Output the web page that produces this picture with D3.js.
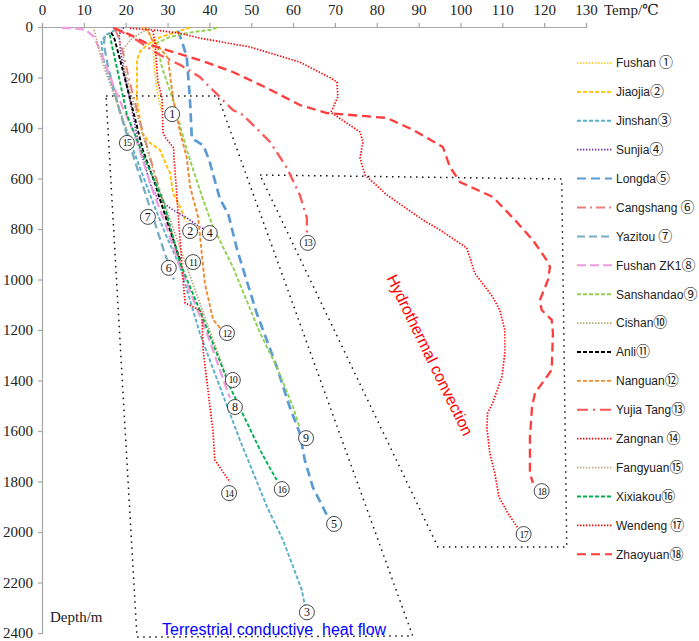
<!DOCTYPE html>
<html>
<head>
<meta charset="utf-8">
<script src="https://cdn.jsdelivr.net/npm/d3@7"></script>
<style>
  body { margin: 0; background: #fff; }
  svg { display: block; }
</style>
</head>
<body>
<svg id="chart" width="699" height="641"></svg>
<script>
// ---- data: [temperature (degC), depth (m)] ----
var fushan1 = [[24,0],[25.5,20],[26.5,60],[26.8,150],[27.5,250],[28.5,330]];
var jiaojia2 = [[35.4,2],[33,15],[31.3,24],[28,42],[25.8,63],[23.5,95],[22.7,130],[22.7,289],[23.9,420],[25.8,459],[28.2,487],[29.9,554],[30.6,578],[31.3,657],[33,713],[34.4,772]];
var jinshan3 = [[17.5,12],[15.5,30],[14.2,55],[14.5,120],[16.5,220],[19.5,380],[23,540],[26.3,685],[29.5,820],[33,950],[37.7,1212],[42.5,1425],[47.3,1636],[53.8,1901],[57.6,2032],[62.1,2230],[62.8,2290]];
var sunjia4 = [[19.5,2],[18.4,30],[18.8,100],[19.5,170],[21.5,330],[23.4,487],[24.6,546],[25.8,620],[27.7,680],[30.6,717],[34.6,756],[37.7,792],[39.4,804]];
var longda5 = [[32.5,15],[33.5,60],[34.6,120],[35.2,250],[35.4,300],[35.8,440],[38.6,470],[40,530],[42.5,680],[44.5,740],[46.6,880],[51.3,1133],[56.1,1346],[59.2,1505],[61.6,1608],[62.8,1715],[64.7,1822],[68.3,1940]];
var cangshang6 = [[17.5,10],[18.5,50],[19.5,110],[21,220],[24,410],[28,640],[31,820],[33.5,960]];
var yazitou7 = [[15,35],[14.8,70],[15.8,160],[18.5,330],[22,520],[25.5,700],[29,880],[31.5,1000]];
var fushanZK1_8 = [[4.8,4],[8,5],[10.5,12],[12.5,40],[14,100],[17.5,250],[22,420],[26.5,650],[29.5,780],[33,950],[39.4,1212],[44.9,1469]];
var sanshandao9 = [[41.8,2],[40.8,10],[37,18],[34.6,24],[30.5,40],[27.5,63],[28.5,150],[31.3,289],[34.6,487],[38.5,685],[40.9,792],[45.6,950],[52.1,1212],[56.1,1346],[60,1505],[61.6,1588]];
var cishan10 = [[25.8,5],[24,20],[21.5,45],[19.5,85],[19.5,150],[21,250],[24,420],[27.5,620],[31,780],[34.6,950],[40.9,1240],[44.2,1386]];
var anli11 = [[16.5,22],[17.2,40],[18.5,120],[21,281],[24.1,487],[27,620],[29.5,750],[33,923]];
var nanguan12 = [[24.6,0],[25.5,20],[26.3,51],[28,80],[30.1,123],[31.3,281],[33,416],[34.6,519],[35.4,634],[37.3,752],[38.9,1014],[40.9,1160],[43,1200]];
var yujiaTang13 = [[17.4,4],[22,45],[28.2,111],[33,150],[37.7,198],[45.6,329],[48,348],[54.5,455],[58.5,558],[61.6,665],[63.3,756],[63.3,816]];
var zangnan14 = [[26.5,15],[27,63],[27.7,218],[28.7,281],[28.9,416],[29.4,436],[31.5,479],[31.5,510],[32.3,685],[33.7,1002],[34.2,1093],[37.7,1121],[38.2,1133],[38.5,1279],[40.9,1608],[41.3,1715],[44.9,1802]];
var fangyuan15 = [[12.2,0],[12.6,20],[13.5,80],[14.6,150],[17,260],[19.9,390],[21.5,460]];
var xixiakou16 = [[16.2,30],[16.8,80],[18.4,200],[20.3,348],[24.5,520],[28.9,685],[33,935],[37.7,1121],[44.9,1425],[52.1,1675],[53.8,1727],[56.1,1794]];
var wendeng17 = [[21,5],[28,14],[33,25],[37.7,44],[49.7,79],[61.6,139],[69,202],[70.5,218],[70.7,277],[69.3,329],[69,338],[76,416],[76.7,455],[76,519],[77.2,586],[82.4,665],[91,764],[95.1,804],[101.5,875],[102.2,911],[103.4,974],[107.7,1069],[109.4,1121],[110.6,1200],[110.6,1291],[109.9,1386],[107.7,1489],[106.5,1529],[106.3,1584],[107,1687],[108.2,1766],[109.2,1861],[111.5,1930],[113.7,1984]];
var zhaoyuan18 = [[17,4],[21,30],[25.8,71],[37.7,131],[45.6,178],[53.8,242],[61.6,309],[68.1,341],[71.2,345],[82.4,360],[88.7,408],[95.8,475],[97.5,555],[99.9,614],[107.7,673],[113,764],[117.3,844],[120.6,923],[121.4,950],[120.9,1002],[119,1081],[119.4,1121],[121.8,1160],[122.1,1212],[121.8,1358],[120.6,1386],[117.8,1450],[117.1,1505],[116.6,1624],[116.6,1766],[117.3,1806]];

var wellNames = ["Fushan","Jiaojia","Jinshan","Sunjia","Longda","Cangshang","Yazitou","Fushan ZK1","Sanshandao","Cishan","Anli","Nanguan","Yujia Tang","Zangnan","Fangyuan","Xixiakou","Wendeng","Zhaoyuan"];
var wellMarks = ["①","②","③","④","⑤","⑥","⑦","⑧","⑨","⑩","⑪","⑫","⑬","⑭","⑮","⑯","⑰","⑱"];
var wellData = [fushan1, jiaojia2, jinshan3, sunjia4, longda5, cangshang6, yazitou7, fushanZK1_8, sanshandao9, cishan10, anli11, nanguan12, yujiaTang13, zangnan14, fangyuan15, xixiakou16, wendeng17, zhaoyuan18];

// where each circled number sits on the chart [temp, depth]
var markAt = [[31.1,345],[35.4,808],[63.3,2318],[40.1,816],[69.8,1968],[30.3,954],[25.3,752],[46.1,1505],[63.1,1628],[45.6,1398],[36.1,931],[44.2,1212],[63.5,855],[44.7,1846],[20.3,459],[57.3,1830],[115.1,2008],[119.4,1838]];

// zone outlines [temp, depth]
var conductiveZone = [[15.3,273],[42.0,273],[88.6,2412],[22.7,2416],[15.3,273]];
var convectionZone = [[52.1,586],[124.2,602],[125.4,2059],[94.6,2059],[52.1,586]];

var tempTicks = d3.range(0, 131, 10);
var depthTicks = d3.range(0, 2401, 200);

// ---- styles ----
var styles = [
  {c:"#FFC000", d:"1.4,1.6", w:1.7},   // Fushan dotted
  {c:"#FFC000", d:"4,2",     w:1.9},   // Jiaojia dashed
  {c:"#5AAFC8", d:"4,2",     w:1.9},   // Jinshan
  {c:"#7030A0", d:"1.4,1.6", w:1.7},   // Sunjia
  {c:"#5B9BD5", d:"9,5",     w:2.7},   // Longda
  {c:"#E8807A", d:"9,4,2,4", w:1.9},   // Cangshang
  {c:"#78AEC0", d:"8,4",     w:2.3},   // Yazitou
  {c:"#EE9CDC", d:"9,4",     w:2.3},   // Fushan ZK1
  {c:"#92D050", d:"4,2",     w:1.9},   // Sanshandao
  {c:"#B0A26A", d:"1.4,1.6", w:1.7},   // Cishan
  {c:"#000000", d:"4,2",     w:1.9},   // Anli
  {c:"#F08A30", d:"4,2",     w:1.9},   // Nanguan
  {c:"#FF5555", d:"11,5,2,5",w:2.3},   // Yujia Tang
  {c:"#FF0000", d:"1.4,1.6", w:1.7},   // Zangnan
  {c:"#B8AA7A", d:"1.4,1.6", w:1.7},   // Fangyuan
  {c:"#00B050", d:"4,2",     w:1.9},   // Xixiakou
  {c:"#FF0000", d:"1.4,1.6", w:1.7},   // Wendeng
  {c:"#FF3B3B", d:"9,5",     w:2.3}    // Zhaoyuan
];

var serif = "'Liberation Serif', 'Times New Roman', 'DejaVu Serif', serif";
var sans = "'Liberation Sans', Arial, sans-serif";

var svg = d3.select("svg#chart");

var x = d3.scaleLinear().domain([0, 130]).range([42, 586]);
var y = d3.scaleLinear().domain([0, 2400]).range([27, 633]);

var line = d3.line()
  .x(d => x(d[0]))
  .y(d => y(d[1]));

// Axes
svg.append("g")
  .attr("class", "axis")
  .attr("transform", "translate(0," + y(0) + ")")
  .call(d3.axisTop(x).tickValues(tempTicks).tickFormat(d3.format("d")).tickSize(4).tickPadding(8));

svg.append("g")
  .attr("class", "axis")
  .attr("transform", "translate(" + x(0) + ",0)")
  .call(d3.axisLeft(y).tickValues(depthTicks).tickFormat(d3.format("d")).tickSize(4).tickPadding(5));

svg.selectAll(".axis")
  .attr("font-family", null)
  .attr("font-size", null);

svg.selectAll(".domain, .tick line")
  .attr("stroke", "#A6A6A6")
  .attr("stroke-width", 1.2);

svg.selectAll(".tick text")
  .style("font-family", serif)
  .style("font-size", "15px")
  .attr("fill", "#222");

svg.append("text")
  .attr("x", 604)
  .attr("y", 15)
  .style("font-family", serif)
  .style("font-size", "15px")
  .attr("fill", "#222")
  .text("Temp/℃");

svg.append("text")
  .attr("x", 50)
  .attr("y", 622)
  .style("font-family", serif)
  .style("font-size", "15px")
  .attr("fill", "#222")
  .text("Depth/m");

// Zone outlines
var zones = svg.selectAll("path.zone")
  .data([conductiveZone, convectionZone]);

zones.enter().append("path")
  .attr("class", "zone")
  .attr("d", line)
  .attr("fill", "none")
  .attr("stroke", "#111")
  .attr("stroke-width", 1.5)
  .attr("stroke-dasharray", "1.5,4.5");

// Temperature curves
var curves = svg.selectAll("path.well")
  .data(wellData);

curves.enter().append("path")
  .attr("class", "well")
  .attr("d", line)
  .attr("fill", "none")
  .attr("stroke", (d, i) => styles[i].c)
  .attr("stroke-width", (d, i) => styles[i].w)
  .attr("stroke-dasharray", (d, i) => styles[i].d);

// Circled numbers in the plot
var marks = svg.selectAll("g.mark")
  .data(markAt)
  .enter().append("g")
  .attr("class", "mark")
  .attr("transform", d => "translate(" + x(d[0]) + "," + y(d[1]) + ")");

marks.append("circle")
  .attr("r", 7.5)
  .attr("fill", "#fff")
  .attr("stroke", "#333")
  .attr("stroke-width", 0.9);

marks.append("text")
  .attr("text-anchor", "middle")
  .attr("dy", "0.35em")
  .style("font-family", serif)
  .style("font-size", (d, i) => i < 9 ? "12px" : "10px")
  .attr("letter-spacing", (d, i) => i < 9 ? 0 : -0.8)
  .attr("fill", "#111")
  .text((d, i) => i + 1);

// Zone captions
svg.append("text")
  .attr("x", 162)
  .attr("y", 635)
  .style("font-family", sans)
  .style("font-size", "16px")
  .style("white-space", "pre")
  .attr("fill", "#0000FF")
  .text("Terrestrial conductive  heat flow");

svg.append("text")
  .attr("transform", "translate(430,355) rotate(64)")
  .attr("text-anchor", "middle")
  .attr("dy", "0.35em")
  .style("font-family", sans)
  .style("font-size", "16px")
  .attr("fill", "#FF0000")
  .text("Hydrothermal convection");

// Legend
var legendTop = 63;
var legendStep = 28.9;

var legend = svg.selectAll("g.legendItem")
  .data(wellNames)
  .enter().append("g")
  .attr("class", "legendItem")
  .attr("transform", (d, i) => "translate(577," + (legendTop + i * legendStep) + ")");

legend.append("line")
  .attr("x1", 0)
  .attr("x2", 35)
  .attr("y1", 0)
  .attr("y2", 0)
  .attr("stroke", (d, i) => styles[i].c)
  .attr("stroke-width", (d, i) => Math.min(styles[i].w, 2))
  .attr("stroke-dasharray", (d, i) => styles[i].d);

var legendText = legend.append("text")
  .attr("x", 39)
  .attr("dy", "0.36em")
  .style("font-family", sans)
  .style("font-size", "12px")
  .attr("fill", "#222");

legendText.append("tspan")
  .text(d => d);

legendText.append("tspan")
  .attr("dx", (d, i) => [0, 5, 6, 13, 16].indexOf(i) >= 0 ? 3 : 0)
  .style("font-family", "'Noto Sans CJK SC', 'DejaVu Sans', sans-serif")
  .style("font-size", "14px")
  .text((d, i) => wellMarks[i]);
</script>
</body>
</html>
